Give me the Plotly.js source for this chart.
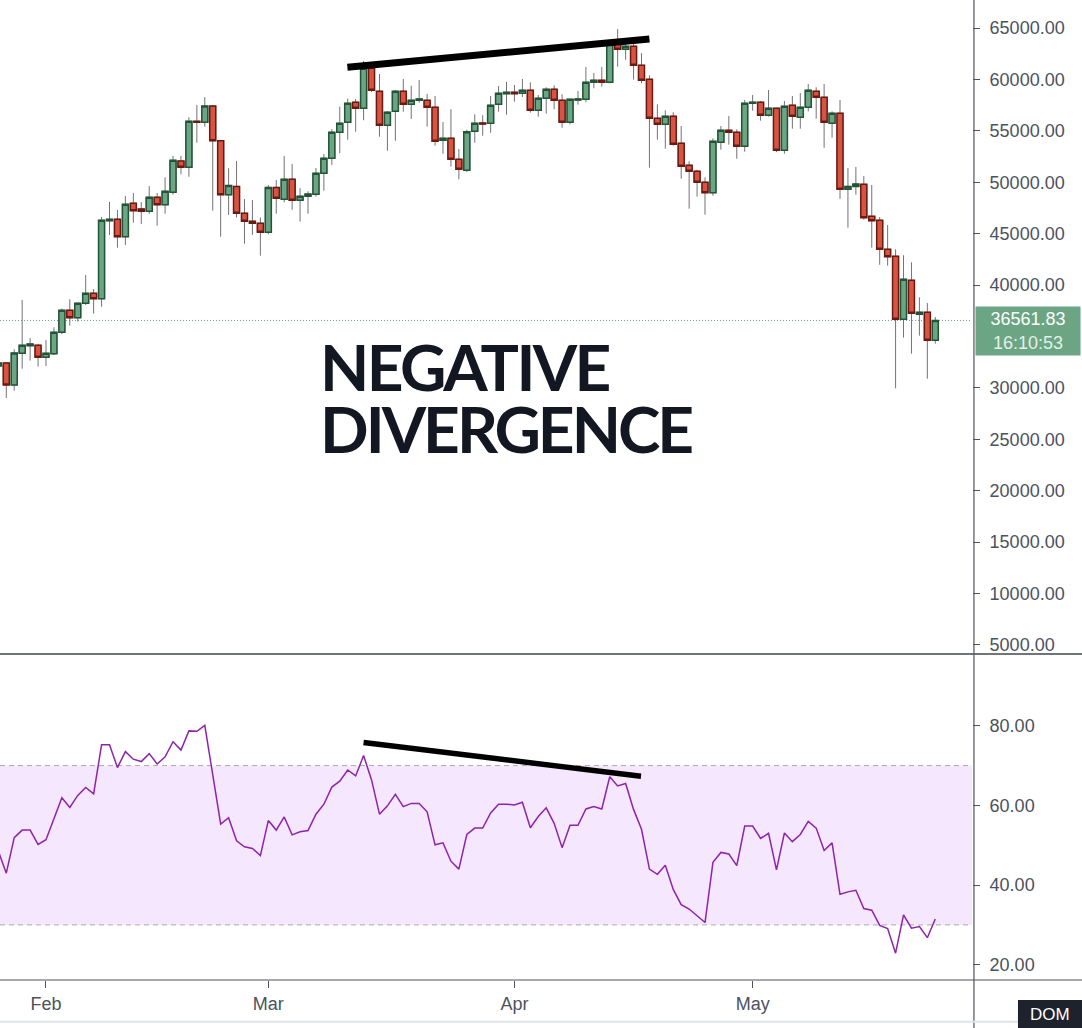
<!DOCTYPE html>
<html>
<head>
<meta charset="utf-8">
<script src="https://cdn.plot.ly/plotly-3.0.1.min.js"></script>
<style>
  html, body { margin: 0; padding: 0; background: #fff; }
  #chart { width: 1082px; height: 1028px; }
</style>
</head>
<body>
<div id="chart"></div>
<script>
// daily BTC candles, 26 Jan -> 24 May 2021
var firstDay = "2021-01-26";

var opens = [
  32130, 32430, 30290, 33370, 34110, 34150,
  32980, 33330, 35410, 37550, 36830, 38230, 39200, 38680, 46260, 46400, 44710, 47960, 47400, 47180,
  48540, 47820, 49030, 52070, 51460, 55930, 55830, 57420, 54040, 48790, 49600, 46980, 46210, 46010,
  45140, 49500, 48340, 50290, 48250, 48640, 48830, 50870, 52330, 54860, 55830, 57780, 57200, 61080,
  58840, 55540, 56900, 58850, 57580, 57970, 57970, 57290, 54080, 54280, 52230, 51160, 54960, 55770,
  55740, 57580, 58620,
  58750, 58650, 58950, 57000, 58170, 59040, 57970, 55830, 58000, 58070, 59720, 59920, 59720, 63480,
  62930, 63220, 61380, 60010, 56220, 55640, 56420, 53790, 51650, 51070, 50000, 48990, 53890, 55060,
  54860, 53500,
  57680, 57780, 56510, 57200, 53110, 57490, 56320, 57290, 58850, 58260, 55740, 56710, 49310, 49600,
  49800, 46690, 46300, 43480, 42800, 36670, 40470, 37160, 37360, 34630
];
var highs = [
  32800, 32520, 33760, 38550, 34860, 34270,
  34660, 35900, 37710, 38620, 38290, 40980, 39620, 46620, 48080, 47300, 48670, 48960, 48080, 49630,
  48960, 50480, 52560, 52560, 56320, 57520, 58290, 57520, 54110, 51360, 52070, 48370, 48280, 46590,
  49740, 50220, 52560, 51780, 49430, 49120, 51390, 52750, 55180, 57350, 58130, 58100, 61790, 61630,
  60530, 56930, 58970, 60040, 59390, 59950, 58590, 58390, 55860, 57100, 53240, 55110, 56610, 56510,
  58390, 59360, 59750,
  59460, 60040, 59720, 58490, 59240, 59430, 58560, 58100, 58880, 61210, 60630, 61210, 63800, 64910,
  63670, 63580, 62550, 60400, 57580, 57000, 56810, 55470, 52040, 51220, 50480, 54280, 55470, 56450,
  55150, 58000,
  58490, 57900, 58970, 57250, 57900, 58390, 58680, 59560, 59240, 59560, 56900, 58000, 51390, 51490,
  50610, 49740, 46620, 45850, 43480, 42900, 42220, 38810, 38260, 36900
];
var lows = [
  31000, 29020, 29730, 31870, 32650, 32070,
  32130, 33200, 35220, 36050, 36440, 38070, 37220, 37900, 44870, 43640, 43900, 46070, 45940, 46920,
  45780, 46940, 48790, 50780, 50540, 53850, 55410, 47240, 44710, 46820, 46560, 44030, 44870, 42860,
  44940, 46940, 48050, 47330, 46170, 46940, 48600, 49180, 51680, 52830, 54140, 54920, 56030, 58780,
  54430, 53070, 54040, 56860, 56150, 57740, 55410, 53560, 52780, 51520, 50290, 51000, 53850, 54530,
  54820, 56860, 56570,
  57840, 58290, 56770, 56380, 56670, 57100, 55310, 55640, 57550, 57780, 59140, 59300, 59630, 61240,
  61920, 59980, 59630, 51420, 54140, 53270, 53560, 50350, 47430, 48600, 46850, 48690, 53170, 53650,
  52290, 52970,
  56960, 55990, 56380, 52940, 52780, 55210, 55210, 56900, 56180, 53360, 54340, 48400, 45580, 48790,
  46360, 43640, 41980, 41890, 29960, 34890, 33330, 35080, 30900, 34300
];
var closes = [
  32430, 30290, 33400, 34150, 34270, 32980,
  33370, 35410, 37550, 36830, 38230, 39200, 38680, 46300, 46400, 44710, 47860, 47240, 47180, 48540,
  47820, 49120, 52140, 51460, 55930, 55830, 57420, 54040, 48790, 49690, 46980, 46210, 46010, 45140,
  49500, 48440, 50290, 48250, 48640, 48860, 50870, 52330, 54860, 55740, 57680, 57200, 61080, 58950,
  55540, 56810, 58850, 57580, 57970, 58100, 57290, 53990, 54280, 52230, 51260, 54920, 55740, 55670,
  57490, 58650, 58750,
  58620, 58950, 57000, 58170, 59040, 57970, 55830, 58070, 58100, 59720, 59920, 59720, 63480, 62930,
  63220, 61380, 59920, 56220, 55640, 56420, 53690, 51550, 51070, 50000, 48990, 53990, 55060, 54860,
  53500, 57680,
  57780, 56510, 57200, 53110, 57390, 56420, 57290, 58950, 58260, 55830, 56710, 49310, 49600, 49830,
  46560, 46260, 43480, 42760, 36670, 40570, 37260, 37360, 34630, 36562
];

var rsi = [
  48.5, 43.0, 51.9, 53.8, 53.8, 50.2,
  51.4, 56.8, 61.9, 59.5, 62.5, 64.5, 62.9, 75.2, 75.2, 69.5, 73.5, 71.6, 71.0, 73.0,
  70.4, 72.2, 76.0, 73.9, 78.7, 78.6, 80.1, 67.7, 55.3, 56.9, 51.1, 49.6, 49.2, 47.4,
  56.2, 53.8, 57.1, 52.6, 53.4, 53.7, 57.8, 60.3, 64.6, 66.1, 68.9, 67.4, 72.5, 66.4,
  57.8, 59.9, 62.8, 59.7, 60.5, 60.5, 58.4, 50.1, 50.6, 46.0, 44.0, 52.7, 54.3, 54.3,
  58.1, 60.3, 60.3,
  60.1, 60.8, 54.4, 57.2, 59.4, 55.5, 49.4, 55.0, 55.0, 59.1, 59.7, 59.1, 67.2, 64.9,
  65.5, 59.0, 54.0, 44.0, 42.7, 45.0, 38.9, 35.1, 34.0, 32.2, 30.6, 45.7, 48.2, 47.8,
  44.9, 54.8,
  54.8, 51.7, 53.0, 43.8, 53.1, 50.9, 52.7, 56.0, 54.3, 48.7, 50.6, 37.7, 38.3, 38.7,
  34.1, 33.7, 29.9, 29.1, 22.9, 32.5, 29.2, 29.6, 26.8, 31.5
];

var rsiBands = [30, 70];
var lastPrice = 36561.83;
var countdown = "16:10:53";

// hand drawn divergence lines
var priceTrendX = ["2021-03-10 23:00", "2021-04-18 00:00"];
var priceTrendY = [61180, 63930];
var rsiTrendX = ["2021-03-13 00:00", "2021-04-16 22:30"];
var rsiTrendY = [75.8, 67.3];

var monthTicks = ["2021-02-01", "2021-03-01", "2021-04-01", "2021-05-01"];
var monthLabels = ["Feb", "Mar", "Apr", "May"];
// 35000 sits under the last price tag, so it is not shown
var priceTicks = [5000, 10000, 15000, 20000, 25000, 30000, 40000, 45000, 50000, 55000, 60000, 65000];
var rsiTicks = [20, 40, 60, 80];

function dayList(start, n) {
  var out = [];
  var t = Date.parse(start + "T00:00:00Z");
  for (var i = 0; i < n; i++) {
    out.push(new Date(t + i * 86400000).toISOString().slice(0, 10));
  }
  return out;
}
var days = dayList(firstDay, opens.length);

// body only = candle with no wicks
var bodyHigh = opens.map(function (o, i) { return Math.max(o, closes[i]); });
var bodyLow = opens.map(function (o, i) { return Math.min(o, closes[i]); });

var upFill = "#6ba583", upLine = "#225437";
var downFill = "#d75442", downLine = "#6b1a12";
var wickColor = "#737375";
var axisColor = "#50535e";

var data = [
  {
    type: "candlestick", x: days, open: opens, high: highs, low: lows, close: closes,
    increasing: {line: {color: wickColor, width: 1}, fillcolor: upFill},
    decreasing: {line: {color: wickColor, width: 1}, fillcolor: downFill},
    hoverinfo: "skip", showlegend: false
  },
  {
    type: "candlestick", x: days, open: opens, high: bodyHigh, low: bodyLow, close: closes,
    increasing: {line: {color: upLine, width: 1.5}, fillcolor: upFill},
    decreasing: {line: {color: downLine, width: 1.5}, fillcolor: downFill},
    hoverinfo: "skip", showlegend: false
  },
  {
    type: "scatter", mode: "lines", x: priceTrendX, y: priceTrendY,
    line: {color: "#000000", width: 7}, hoverinfo: "skip", showlegend: false
  },
  {
    type: "scatter", mode: "lines", x: days, y: rsi, yaxis: "y2",
    line: {color: "#8e24aa", width: 1.5}, hoverinfo: "skip", showlegend: false
  },
  {
    type: "scatter", mode: "lines", x: rsiTrendX, y: rsiTrendY, yaxis: "y2",
    line: {color: "#000000", width: 5.5}, hoverinfo: "skip", showlegend: false
  }
];

var tickFont = {family: "Liberation Sans, Arial, sans-serif", size: 18, color: "#4c525e"};
var bigFont = {family: "Lato, sans-serif", size: 64, weight: 700, color: "#131722"};

var layout = {
  width: 1082,
  height: 1028,
  margin: {l: 0, r: 110, t: 0, b: 48},
  paper_bgcolor: "#ffffff",
  plot_bgcolor: "#ffffff",
  showlegend: false,
  hovermode: false,
  boxgap: 0.24,
  boxgroupgap: 0,
  xaxis: {
    type: "date",
    range: ["2021-01-26 05:00", "2021-05-28 15:00"],
    anchor: "y2",
    tickvals: monthTicks,
    ticktext: monthLabels,
    ticks: "outside", ticklen: 7, tickcolor: axisColor,
    tickfont: tickFont,
    showgrid: false, zeroline: false, showline: false,
    rangeslider: {visible: false}
  },
  yaxis: {
    domain: [0.3337, 1],
    range: [4222, 67726],
    side: "right", anchor: "x",
    tickvals: priceTicks, tickformat: ".2f",
    ticks: "outside", ticklen: 7, tickcolor: axisColor,
    ticklabelstandoff: 6,
    tickfont: tickFont,
    showgrid: false, zeroline: false, showline: false
  },
  yaxis2: {
    domain: [0, 0.3316],
    range: [16.18, 97.74],
    side: "right", anchor: "x",
    tickvals: rsiTicks, tickformat: ".2f",
    ticks: "outside", ticklen: 7, tickcolor: axisColor,
    ticklabelstandoff: 6,
    tickfont: tickFont,
    showgrid: false, zeroline: false, showline: false
  },
  shapes: [
    {type: "rect", xref: "paper", yref: "y2", x0: 0, x1: 1, y0: rsiBands[0], y1: rsiBands[1],
     fillcolor: "#f5e7fd", line: {width: 0}, layer: "below"},
    {type: "line", xref: "paper", yref: "y2", x0: 0, x1: 1, y0: rsiBands[1], y1: rsiBands[1],
     line: {color: "#aeabb4", width: 1, dash: "5px,4px"}, layer: "below"},
    {type: "line", xref: "paper", yref: "y2", x0: 0, x1: 1, y0: rsiBands[0], y1: rsiBands[0],
     line: {color: "#aeabb4", width: 1, dash: "5px,4px"}, layer: "below"},
    {type: "line", xref: "paper", yref: "y", x0: 0, x1: 1, y0: lastPrice, y1: lastPrice,
     line: {color: upFill, width: 1, dash: "1px,2px"}, layer: "below"},
    // pane divider, bottom axis line, right axis line
    {type: "line", xref: "paper", yref: "paper", x0: 0, x1: 1.12, y0: 0.3327, y1: 0.3327,
     line: {color: "#434651", width: 1.5}},
    {type: "line", xref: "paper", yref: "paper", x0: 0, x1: 1.12, y0: 0, y1: 0,
     line: {color: axisColor, width: 1.2}},
    {type: "line", xref: "paper", yref: "paper", x0: 1.002, x1: 1.002, y0: -0.06, y1: 1,
     line: {color: axisColor, width: 1.2}},
    {type: "line", xref: "paper", yref: "paper", x0: 0, x1: 1.05, y0: -0.0425, y1: -0.0425,
     line: {color: "#e0e3eb", width: 2}},
    {type: "rect", xref: "paper", yref: "paper", x0: 1.0473, x1: 1.12, y0: -0.06, y1: -0.0204,
     fillcolor: "#1e222d", line: {width: 0}}
  ],
  annotations: [
    // one text block; the second line is pulled up to the tight line pitch of the original
    {xref: "paper", yref: "paper", x: 0.3275, y: 0.6676, xanchor: "left", yanchor: "top",
     align: "left", showarrow: false, font: bigFont,
     text: "<span style='letter-spacing:-2.6px'>NEGATIVE</span><br>" +
           "<span style='letter-spacing:-3px;baseline-shift:21px'>DIVERGENCE</span>"},
    {xref: "paper", yref: "y", x: 1.002, y: lastPrice, xanchor: "left", yanchor: "middle",
     yshift: -11, xshift: 1,
     text: lastPrice.toFixed(2) + "<br><span style='color:#e3f0e8'>" + countdown + "</span>",
     showarrow: false, align: "center", width: 100, height: 44, borderpad: 2,
     bgcolor: upFill, font: {family: "Liberation Sans, Arial, sans-serif", size: 18, color: "#ffffff"}},
    {xref: "paper", yref: "paper", x: 1.0802, y: -0.0357, xanchor: "center", yanchor: "middle",
     text: "DOM", showarrow: false,
     font: {family: "Liberation Sans, Arial, sans-serif", size: 17, color: "#ffffff"}}
  ]
};

Plotly.newPlot("chart", data, layout, {staticPlot: true, displayModeBar: false});
</script>
</body>
</html>
